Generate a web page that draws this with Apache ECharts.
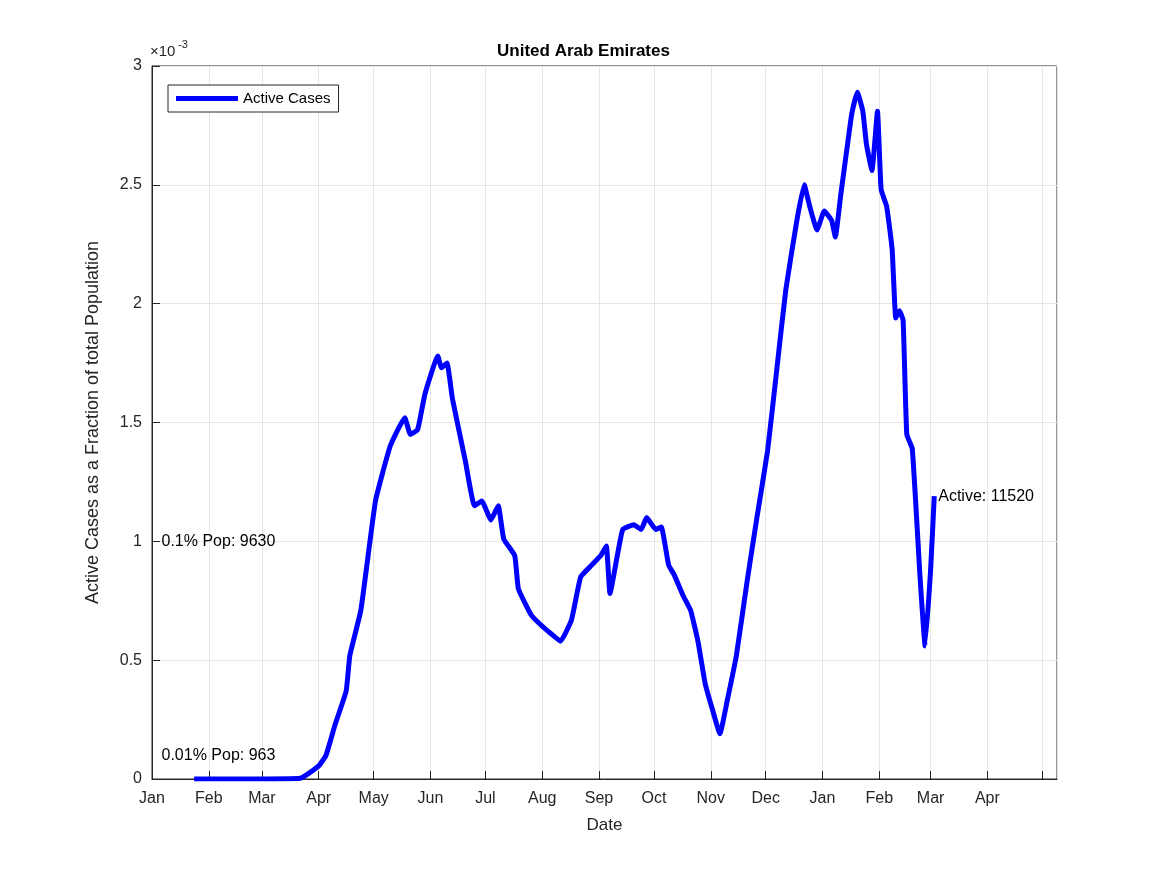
<!DOCTYPE html>
<html style="height: 100%">
<head>
    <meta charset="UTF-8" />
    <script type="text/javascript" src="https://cdn.jsdelivr.net/npm/echarts@6/dist/echarts.min.js"></script>
</head>
<body style="height: 100%; margin: 0; background: #fff">
    <div id="container" style="width: 1167px; height: 875px"></div>
    <script>
        // days since 2020-01-01 and active cases (x 1e-3 of population)
        var days = [23, 50, 81, 91, 95, 100, 106, 108, 114, 122, 130, 138, 141, 145, 149, 156, 158, 161, 164, 171, 176, 180, 185, 189, 192,
            198, 200, 207, 212, 218, 223, 229, 234, 240, 245, 248, 250, 254, 257, 263, 267, 270, 275, 278, 282, 285, 290, 294, 298, 302,
            306, 310, 314, 319, 325, 330, 336, 341, 346, 352, 356, 359, 363, 367, 371, 373, 376, 380, 382, 385, 388, 390, 393, 396, 398,
            401, 404, 406, 408, 410, 412, 415, 419, 420, 422, 425, 427];
        var active = [0, 0, 0.003, 0.055, 0.10, 0.23, 0.37, 0.52, 0.71, 1.17, 1.40, 1.52, 1.45, 1.47, 1.62, 1.78, 1.73, 1.75, 1.60, 1.34, 1.15, 1.17, 1.09, 1.15, 1.01,
            0.94, 0.80, 0.69, 0.65, 0.61, 0.58, 0.67, 0.85, 0.90, 0.94, 0.98, 0.78, 0.94, 1.05, 1.07, 1.05, 1.10, 1.05, 1.06, 0.90, 0.86, 0.77, 0.71, 0.58, 0.40,
            0.29, 0.19, 0.33, 0.52, 0.84, 1.09, 1.38, 1.72, 2.06, 2.35, 2.50, 2.41, 2.31, 2.39, 2.35, 2.28, 2.46, 2.69, 2.80, 2.89, 2.81, 2.67, 2.56, 2.81, 2.48,
            2.41, 2.23, 1.94, 1.97, 1.93, 1.45, 1.39, 0.88, 0.76, 0.56, 0.88, 1.19];
        var yTicks = [0, 0.5, 1, 1.5, 2, 2.5, 3];

        var DAY = 86400000;
        var t0 = Date.UTC(2020, 0, 1);
        var tEnd = Date.UTC(2021, 4, 9);
        var seriesData = days.map(function (d, i) { return [t0 + d * DAY, active[i]]; });
        var last = seriesData[seriesData.length - 1];
        var monthNames = ['Jan','Feb','Mar','Apr','May','Jun','Jul','Aug','Sep','Oct','Nov','Dec'];

        var chart = echarts.init(document.getElementById("container"));
        var font = 'Helvetica, Arial, "Liberation Sans", sans-serif';
        chart.setOption({
            backgroundColor: '#fff',
            textStyle: { fontFamily: font },
            title: { text: 'United Arab Emirates', left: 'center', top: 38, textStyle: { fontSize: 17, fontWeight: 'bold', color: '#000', fontFamily: font } },
            grid: { left: 152, right: 110, top: 66, bottom: 96, show: true, borderColor: '#262626', borderWidth: 1 },
            legend: {
                left: 168, top: 85, padding: [6, 8], borderColor: '#262626', borderWidth: 1, backgroundColor: '#fff',
                itemWidth: 62, itemHeight: 5, icon: 'rect',
                textStyle: { fontSize: 15, color: '#000' }, data: ['Active Cases']
            },
            xAxis: {
                type: 'time', min: t0, max: tEnd, splitNumber: 16,
                name: 'Date', nameLocation: 'middle', nameGap: 38, nameTextStyle: { fontSize: 17, color: '#262626' },
                axisLine: { lineStyle: { color: '#262626' } },
                axisTick: { inside: true, length: 8, lineStyle: { color: '#262626' } },
                axisLabel: { fontSize: 16, color: '#262626', margin: 12, hideOverlap: false,
                    formatter: function (v) { return v >= Date.UTC(2021, 4, 1) ? '' : monthNames[new Date(v).getUTCMonth()]; } },
                splitLine: { show: true, lineStyle: { color: '#e6e6e6' } }
            },
            yAxis: {
                type: 'value', min: 0, max: 3, interval: 0.5,
                name: 'Active Cases as a Fraction of total Population', nameLocation: 'middle', nameGap: 50,
                nameTextStyle: { fontSize: 18, color: '#262626' },
                axisLine: { show: true, lineStyle: { color: '#262626' } },
                axisTick: { show: true, inside: true, length: 8, lineStyle: { color: '#262626' } },
                axisLabel: { fontSize: 16, color: '#262626', margin: 10,
                    formatter: function (v) { return yTicks.indexOf(v) >= 0 ? String(v) : ''; } },
                splitLine: { show: true, lineStyle: { color: '#e6e6e6' } }
            },
            graphic: [{ type: 'text', left: 150, top: 44, style: { text: '×10', fill: '#262626', font: '15px ' + font } },
                      { type: 'text', left: 178, top: 39, style: { text: '-3', fill: '#262626', font: '11px ' + font } }],
            series: [{
                name: 'Active Cases', type: 'line', data: seriesData, showSymbol: false, smooth: 0.12,
                lineStyle: { color: '#0000ff', width: 5 }, itemStyle: { color: '#0000ff' },
                markPoint: {
                    symbolSize: 0,
                    label: { show: true, position: 'right', distance: 4, fontSize: 16, color: '#000', fontFamily: font },
                    data: [
                        { coord: [t0 + 3 * DAY, 1.0], value: '0.1% Pop: 9630', label: { formatter: '0.1% Pop: 9630' } },
                        { coord: [t0 + 3 * DAY, 0.1], value: '0.01% Pop: 963', label: { formatter: '0.01% Pop: 963' } },
                        { coord: last, value: 'Active: 11520', label: { formatter: 'Active: 11520' } }
                    ]
                }
            }]
        });
    </script>
</body>
</html>
